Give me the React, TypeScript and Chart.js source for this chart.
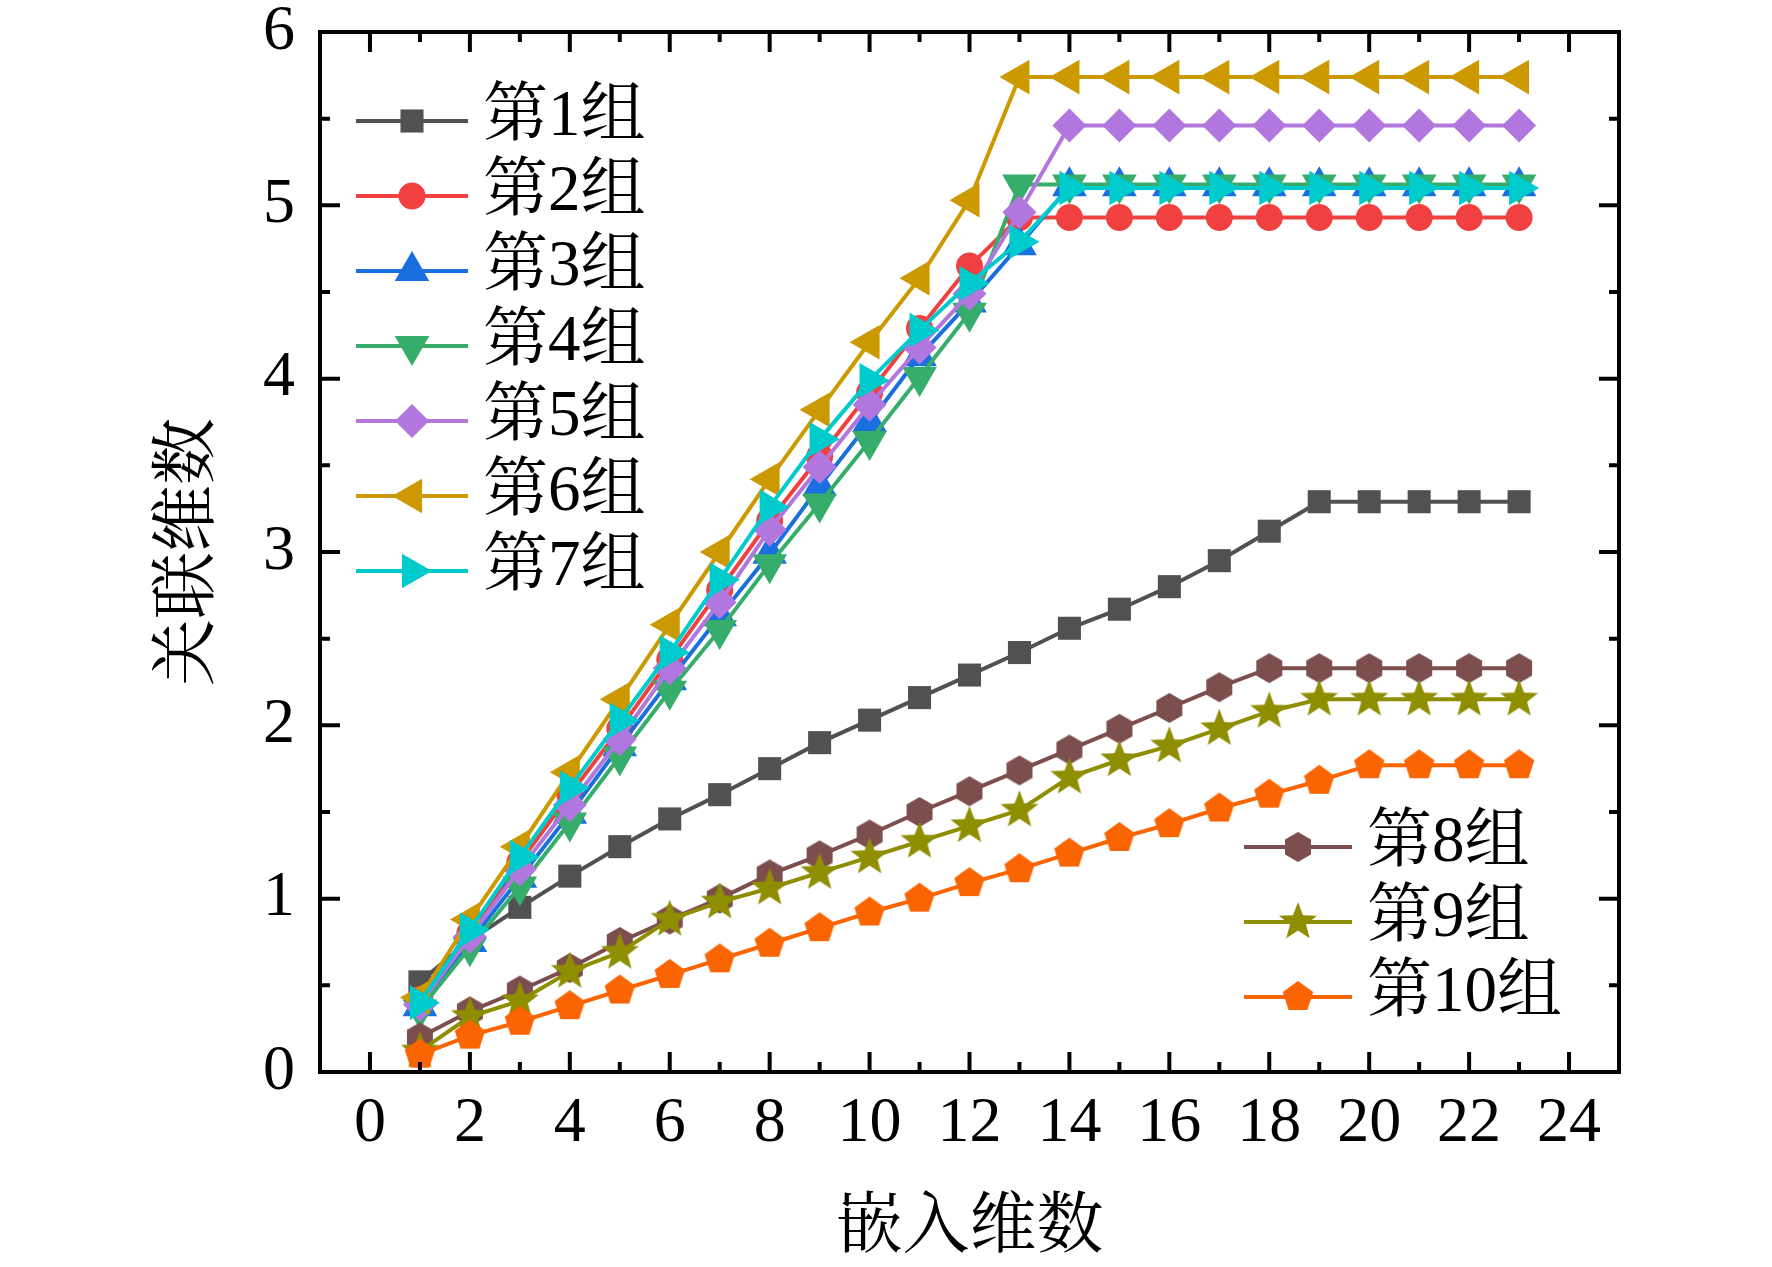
import { useEffect, useRef } from 'react';
import { Chart, registerables } from 'chart.js';
import { drawPoint } from 'chart.js/helpers';

Chart.register(...registerables);

// 嵌入维数 (x) and 关联维数 for each group
const embedDims = [1, 2, 3, 4, 5, 6, 7, 8, 9, 10, 11, 12, 13, 14, 15, 16, 17, 18, 19, 20, 21, 22, 23];
const groupNames = ['第1组', '第2组', '第3组', '第4组', '第5组', '第6组', '第7组', '第8组', '第9组', '第10组'];

const group1 = [0.52, 0.76, 0.95, 1.13, 1.30, 1.46, 1.60, 1.75, 1.90, 2.03, 2.16, 2.29, 2.42, 2.56, 2.67, 2.80, 2.95, 3.12, 3.29, 3.29, 3.29, 3.29, 3.29];
const group2 = [0.42, 0.80, 1.21, 1.60, 1.98, 2.38, 2.78, 3.18, 3.55, 3.92, 4.29, 4.65, 4.93, 4.93, 4.93, 4.93, 4.93, 4.93, 4.93, 4.93, 4.93, 4.93, 4.93];
const group3 = [0.38, 0.75, 1.12, 1.49, 1.88, 2.26, 2.63, 2.99, 3.38, 3.75, 4.13, 4.44, 4.77, 5.11, 5.11, 5.11, 5.11, 5.11, 5.11, 5.11, 5.11, 5.11, 5.11];
const group4 = [0.36, 0.72, 1.07, 1.44, 1.82, 2.20, 2.55, 2.93, 3.28, 3.64, 4.01, 4.38, 5.12, 5.12, 5.12, 5.12, 5.12, 5.12, 5.12, 5.12, 5.12, 5.12, 5.12];
const group5 = [0.39, 0.78, 1.17, 1.54, 1.92, 2.33, 2.71, 3.13, 3.49, 3.85, 4.18, 4.49, 4.96, 5.46, 5.46, 5.46, 5.46, 5.46, 5.46, 5.46, 5.46, 5.46, 5.46];
const group6 = [0.43, 0.88, 1.30, 1.73, 2.15, 2.58, 3.00, 3.42, 3.82, 4.21, 4.58, 5.03, 5.74, 5.74, 5.74, 5.74, 5.74, 5.74, 5.74, 5.74, 5.74, 5.74, 5.74];
const group7 = [0.40, 0.82, 1.24, 1.64, 2.03, 2.42, 2.84, 3.26, 3.65, 3.99, 4.28, 4.55, 4.79, 5.10, 5.10, 5.10, 5.10, 5.10, 5.10, 5.10, 5.10, 5.10, 5.10];
const group8 = [0.20, 0.35, 0.47, 0.60, 0.75, 0.88, 1.00, 1.14, 1.25, 1.37, 1.50, 1.62, 1.74, 1.86, 1.98, 2.10, 2.22, 2.33, 2.33, 2.33, 2.33, 2.33, 2.33];
const group9 = [0.12, 0.32, 0.41, 0.58, 0.69, 0.88, 0.98, 1.06, 1.15, 1.24, 1.33, 1.42, 1.51, 1.70, 1.80, 1.88, 1.98, 2.08, 2.15, 2.15, 2.15, 2.15, 2.15];
const group10 = [0.10, 0.21, 0.29, 0.38, 0.47, 0.56, 0.65, 0.74, 0.83, 0.92, 1.00, 1.09, 1.17, 1.26, 1.35, 1.43, 1.52, 1.60, 1.68, 1.77, 1.77, 1.77, 1.77];

const groups = [group1, group2, group3, group4, group5, group6, group7, group8, group9, group10];

const xTicks = [0, 2, 4, 6, 8, 10, 12, 14, 16, 18, 20, 22, 24];
const yTicks = [0, 1, 2, 3, 4, 5, 6];

const groupColors = ['#515151', '#F14040', '#1A6FDF', '#37AD6B', '#B177DE', '#CC9900', '#00CBCC', '#7D4E4E', '#8E8E00', '#FB6501'];

const SERIF = '"Liberation Serif", "Times New Roman", "Noto Serif CJK SC", "Noto Sans CJK SC", serif';

// filled polygon / star marker as a canvas (for shapes chart.js has no built-in for)
function polyMarker(color: string, radius: number, corners: number, inner = 0) {
  const c = document.createElement('canvas');
  const size = Math.ceil(radius * 2 + 2);
  c.width = size;
  c.height = size;
  const ctx = c.getContext('2d')!;
  ctx.fillStyle = color;
  ctx.beginPath();
  const n = inner ? corners * 2 : corners;
  for (let i = 0; i < n; i++) {
    const r = inner && i % 2 ? radius * inner : radius;
    const a = -Math.PI / 2 + (i * 2 * Math.PI) / n;
    const px = size / 2 + r * Math.cos(a);
    const py = size / 2 + r * Math.sin(a);
    if (i) ctx.lineTo(px, py);
    else ctx.moveTo(px, py);
  }
  ctx.closePath();
  ctx.fill();
  return c;
}

type Marker = { style: any; radius: number; rotation: number };

function makeMarkers(): Marker[] {
  return [
    { style: 'rect', radius: 16.3, rotation: 0 },
    { style: 'circle', radius: 13.5, rotation: 0 },
    { style: 'triangle', radius: 20, rotation: 0 },
    { style: 'triangle', radius: 20, rotation: 180 },
    { style: 'rectRot', radius: 17, rotation: 0 },
    { style: 'triangle', radius: 20, rotation: -90 },
    { style: 'triangle', radius: 20, rotation: 90 },
    { style: polyMarker(groupColors[7], 15, 6), radius: 15, rotation: 0 },
    { style: polyMarker(groupColors[8], 20, 5, 0.42), radius: 20, rotation: 0 },
    { style: polyMarker(groupColors[9], 16, 5), radius: 16, rotation: 0 },
  ];
}

// legend blocks: which groups, where
const legendBlocks = [
  { items: [0, 1, 2, 3, 4, 5, 6], top: 121, step: 75, lineX0: 356, lineX1: 468, textX: 483 },
  { items: [7, 8, 9], top: 847, step: 75, lineX0: 1244, lineX1: 1352, textX: 1367 },
];

const App = () => {
  const chartRef = useRef<HTMLCanvasElement | null>(null);

  useEffect(() => {
    const markers = makeMarkers();

    const frameTicks = {
      id: 'frameTicks',
      afterDatasetsDraw(chart: any) {
        const { ctx, chartArea: a, scales } = chart;
        ctx.save();
        ctx.strokeStyle = '#000';
        ctx.lineWidth = 4;
        ctx.lineCap = 'butt';
        ctx.beginPath();
        for (let v = 0; v <= 24; v++) {
          const px = scales.x.getPixelForValue(v);
          const len = v % 2 === 0 ? 20 : 10;
          ctx.moveTo(px, a.bottom); ctx.lineTo(px, a.bottom - len);
          ctx.moveTo(px, a.top); ctx.lineTo(px, a.top + len);
        }
        for (let v = 0.5; v < 6; v += 0.5) {
          const py = scales.y.getPixelForValue(v);
          const len = v % 1 === 0 ? 20 : 10;
          ctx.moveTo(a.left, py); ctx.lineTo(a.left + len, py);
          ctx.moveTo(a.right, py); ctx.lineTo(a.right - len, py);
        }
        ctx.stroke();
        ctx.strokeRect(a.left, a.top, a.right - a.left, a.bottom - a.top);
        ctx.restore();
      },
    };

    const groupLegend = {
      id: 'groupLegend',
      afterDraw(chart: any) {
        const ctx = chart.ctx;
        legendBlocks.forEach((block) => {
          block.items.forEach((gi, k) => {
            const y = block.top + k * block.step;
            ctx.save();
            ctx.strokeStyle = groupColors[gi];
            ctx.lineWidth = 4;
            ctx.beginPath();
            ctx.moveTo(block.lineX0, y);
            ctx.lineTo(block.lineX1, y);
            ctx.stroke();
            ctx.fillStyle = groupColors[gi];
            const m = markers[gi];
            drawPoint(ctx, { pointStyle: m.style, rotation: m.rotation, radius: m.radius, borderWidth: 0 } as any,
              (block.lineX0 + block.lineX1) / 2, y);
            ctx.fillStyle = '#000';
            ctx.font = `65px ${SERIF}`;
            ctx.textAlign = 'left';
            ctx.textBaseline = 'middle';
            ctx.fillText(groupNames[gi], block.textX, y - 3);
            ctx.restore();
          });
        });
      },
    };

    const chart = new Chart(chartRef.current!, {
      type: 'line',
      data: {
        datasets: groups.map((vals, i) => ({
          label: groupNames[i],
          data: vals.map((v, j) => ({ x: embedDims[j], y: v })),
          borderColor: groupColors[i],
          backgroundColor: groupColors[i],
          pointBackgroundColor: groupColors[i],
          pointBorderWidth: 0,
          pointStyle: markers[i].style,
          pointRadius: markers[i].radius,
          pointRotation: markers[i].rotation,
          borderWidth: 4,
          tension: 0,
          order: groups.length - i,
        })),
      },
      options: {
        animation: false,
        responsive: true,
        maintainAspectRatio: false,
        events: [],
        layout: { padding: { left: 0, top: 32, right: 153, bottom: 0 } },
        plugins: {
          legend: { display: false },
          tooltip: { enabled: false },
        },
        scales: {
          x: {
            type: 'linear',
            min: -1,
            max: 25,
            grid: { display: false, drawTicks: false },
            border: { display: false },
            afterBuildTicks: (scale: any) => {
              scale.ticks = xTicks.map((v) => ({ value: v }));
            },
            afterFit: (scale: any) => {
              scale.height = 195;
              scale.paddingLeft = 0;
              scale.paddingRight = 0;
            },
            ticks: {
              autoSkip: false,
              maxRotation: 0,
              padding: 14,
              color: '#000',
              font: { family: SERIF, size: 64 },
            },
            title: {
              display: true,
              text: '嵌入维数',
              color: '#000',
              font: { family: SERIF, size: 67, lineHeight: 1.1 },
              padding: { top: 0, bottom: 1 },
            },
          },
          y: {
            type: 'linear',
            min: 0,
            max: 6,
            grid: { display: false, drawTicks: false },
            border: { display: false },
            afterBuildTicks: (scale: any) => {
              scale.ticks = yTicks.map((v) => ({ value: v }));
            },
            afterFit: (scale: any) => {
              scale.width = 320;
              scale.paddingTop = 0;
              scale.paddingBottom = 0;
            },
            ticks: {
              padding: 25,
              color: '#000',
              font: { family: SERIF, size: 64 },
            },
            title: {
              display: true,
              text: '关联维数',
              color: '#000',
              font: { family: SERIF, size: 67, lineHeight: 1.1 },
              padding: { top: 154, bottom: 0 },
            },
          },
        },
      },
      plugins: [frameTicks, groupLegend],
    });
    return () => {
      chart.destroy();
    };
  }, []);

  return (
    <div style={{ position: 'absolute', left: 0, top: 0, width: 1772, height: 1267, background: '#fff' }}>
      <canvas ref={chartRef} />
    </div>
  );
};

export default App;
